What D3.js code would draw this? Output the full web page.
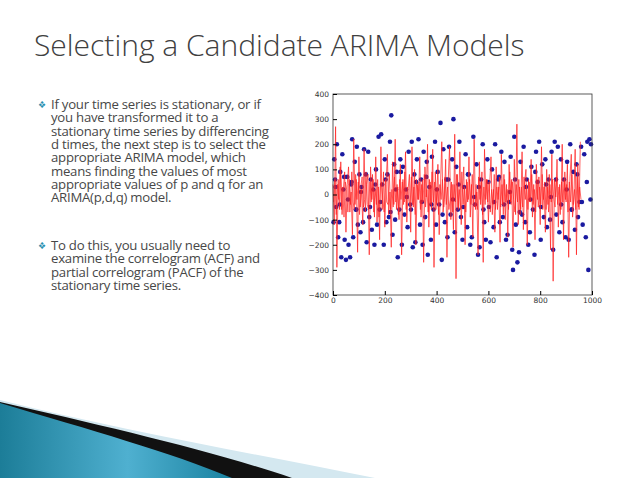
<!DOCTYPE html>
<html><head><meta charset="utf-8">
<script src="https://cdn.jsdelivr.net/npm/d3@7"></script>
<style>body{margin:0;background:#fff;font-family:"Open Sans",sans-serif;}</style>
</head><body><div id="slide"></div>
<script>
const title = "Selecting a Candidate ARIMA Models";
const bullet1 = ["If your time series is stationary, or if","you have transformed it to a","stationary time series by differencing","d times, the next step is to select the","appropriate ARIMA model, which","means finding the values of most","appropriate values of p and q for an","ARIMA(p,d,q) model."];
const bullet2 = ["To do this, you usually need to","examine the correlogram (ACF) and","partial correlogram (PACF) of the","stationary time series."];
const xTicks = [0, 200, 400, 600, 800, 1000];
const yTicks = [-400, -300, -200, -100, 0, 100, 200, 300, 400];

// red series, one value every 5 steps
const lineStep = 5;
const lineValues = [40,-120,270,-290,60,-60,130,-80,20,90,-150,40,110,-70,10,-160,220,-40,60,-230,
 150,-50,20,-120,180,-70,40,80,-240,110,-20,60,-90,150,-110,30,-180,190,-60,90,
 -130,40,160,-80,10,-210,130,-40,220,-60,30,-100,120,-240,60,-30,170,-110,20,80,
 -150,190,-50,100,-200,40,-20,150,-90,60,-270,110,-10,200,-130,50,-60,180,-290,90,
 -40,120,-160,30,210,-70,-20,140,-250,60,190,-100,40,-140,240,-335,80,-60,170,-120,
 20,110,-200,60,-30,150,-90,40,-170,220,-60,10,-240,130,-40,90,-270,180,-20,60,
 -110,40,150,-80,20,-150,110,-60,30,-190,160,-40,80,-100,40,-170,120,-30,60,-210,
 140,-80,280,-120,30,-60,170,-140,50,100,-200,60,-30,140,-90,40,-180,120,-20,70,
 -120,190,-60,30,-150,100,-40,80,-220,160,-345,60,-10,140,-130,40,-60,200,-180,90,
 -30,120,-250,70,160,-90,-20,180,-240,120,-60,210];
// second interleaved red pass (offset by 2.5 steps), smaller swings
const lineValues2 = [-30,60,-80,40,-20,110,-60,30,-90,50,20,-70,60,-40,90,-30,-60,80,-20,50,
 -80,30,70,-50,-20,90,-40,-60,50,-30,80,-70,20,-40,60,-90,30,50,-20,-70,
 60,-30,-40,80,-60,20,-50,70,-30,40,-80,60,-20,50,-40,90,-60,30,-20,-50,
 70,-40,30,-80,60,-20,50,-60,40,-30,80,-50,20,-70,60,-40,90,-30,50,-60,
 30,-80,40,-20,60,-50,70,-40,30,-60,-20,50,-70,40,-30,80,-50,20,-60,90,
 -40,30,-70,50,-20,60,-40,80,-30,-50,40,-60,70,-20,50,-80,30,-40,60,-30,
 50,-70,20,-40,80,-60,30,-20,70,-50,40,-80,60,-30,20,-60,90,-40,50,-20,
 -70,40,-30,60,-80,30,-50,70,-20,40,-60,50,-30,80,-40,20,-70,60,-50,30,
 -40,80,-20,50,-60,30,-70,40,-30,60,-20,-50,70,-40,30,-80,50,-30,60,-20,
 40,-70,50,-30,80,-40,20,-60,70,-50,30,-20];

// blue dots: [x, value]
const dotX = [2,5,8,12,15,20,24,28,32,36,40,45,50,55,60,66,70,74,78,84,88,92,96,102,106,110,116,120,124,130,
 136,140,146,150,156,160,166,170,176,180,186,190,196,200,206,210,216,220,225,230,236,240,246,250,256,260,266,270,276,282,
 288,292,298,304,308,314,318,324,330,336,340,346,350,356,362,366,372,378,382,388,394,398,404,410,415,420,426,432,438,442,
 448,454,460,465,470,476,482,488,494,500,506,512,518,524,530,536,542,548,554,560,566,572,578,584,590,596,602,608,614,620,
 626,632,638,644,650,656,662,668,674,680,686,692,695,700,706,712,718,724,730,736,742,748,754,760,766,772,778,784,790,796,
 802,808,814,820,826,832,838,844,850,856,862,868,874,880,886,892,898,904,910,916,922,928,934,940,946,952,958,964,970,976,982,986,990,996];
const dotY = [-110,140,60,-50,200,-170,-110,90,-250,160,20,-180,-260,70,-200,-250,40,220,-170,130,-60,190,-120,80,-150,30,-110,180,-60,-190,
 170,-90,60,-140,20,-200,100,-120,230,-60,240,40,-200,140,-110,80,-90,210,315,-160,120,-100,90,-250,-60,140,-200,110,-80,20,
 -130,170,-40,210,-210,80,-190,140,220,-120,60,-200,170,-90,130,-240,30,-180,150,-60,210,-120,90,-40,285,-260,180,-110,60,-170,
 190,-80,140,300,-150,110,-60,210,-90,-180,30,160,-130,80,-200,-170,230,-40,120,-240,-210,60,200,-110,-180,140,-50,-190,100,-130,
 200,-250,60,-110,170,-90,130,-180,-160,-30,150,-220,-300,230,-120,-270,-230,130,-80,190,-110,60,-200,-150,110,-60,-240,170,50,210,
 -180,120,-90,140,-130,60,-100,170,-220,210,-80,190,-150,140,-110,60,-170,130,-180,200,-60,90,-140,120,-90,-30,190,-120,160,-170,210,-300,220,200];
// extra dots near the centre band
const dotX2 = [10,26,43,58,72,90,108,127,143,163,183,203,222,243,262,285,301,321,343,360,380,401,423,445,463,485,503,521,545,563,
 581,600,622,641,660,683,703,721,745,763,781,803,823,841,861,881,902,921,943,961,980,994];
const dotY2 = [30,-40,70,-20,50,-60,10,80,-50,40,-30,60,-70,20,90,-10,-60,50,-30,70,-40,20,-80,60,-20,40,-50,80,-10,30,
 -60,50,-30,70,-40,10,60,-70,30,-20,90,-50,40,-10,60,-40,20,-60,80,-30,50,-20];

const W = 638, H = 478;
const svg = d3.select("#slide").append("svg").attr("width", W).attr("height", H);

// bottom decoration
svg.append("path").attr("fill", "#d4e8f0")
  .attr("d", "M0,400 C120,430 260,455 375,478 L0,478 Z");
svg.append("path").attr("fill", "#111")
  .attr("d", "M0,402 C100,425 210,450 292,478 L0,478 Z");
const grad = svg.append("defs").append("linearGradient").attr("id", "bg");
grad.append("stop").attr("offset", "0").attr("stop-color", "#1c7d98");
grad.append("stop").attr("offset", "0.55").attr("stop-color", "#4fb0d0");
grad.append("stop").attr("offset", "1").attr("stop-color", "#1a82a0");
svg.append("path").attr("fill", "url(#bg)")
  .attr("d", "M0,403 C90,430 170,452 232,478 L0,478 Z");

svg.append("text").attr("x", 34).attr("y", 56).attr("fill", "#404040")
  .style("font-size", "30px").style("font-weight", 300).text(title);

function drawBullet(lines, y0, step) {
  svg.append("text").attr("x", 38).attr("y", y0 - 1).attr("fill", "#2a8fb0")
    .style("font-size", "9px").text("❖");
  lines.forEach((t, i) => {
    svg.append("text").attr("x", 51).attr("y", y0 + i * step).attr("fill", "#474747")
      .style("font-size", "13.2px").style("letter-spacing", "-0.25px").text(t);
  });
}
drawBullet(bullet1, 109, 13.3);
drawBullet(bullet2, 250, 13.3);

const x = d3.scaleLinear().domain([0, 1000]).range([333, 592]);
const y = d3.scaleLinear().domain([-400, 400]).range([295, 94]);

const dots = svg.append("g");
dots.selectAll(".a").data(dotX).join("circle")
  .attr("cx", d => x(d)).attr("cy", (d, i) => y(dotY[i])).attr("r", 2.3).attr("fill", "#1a1aa0");
dots.selectAll(".b").data(dotX2).join("circle")
  .attr("cx", d => x(d)).attr("cy", (d, i) => y(dotY2[i])).attr("r", 2.3).attr("fill", "#1a1aa0");

const redLine = (vals, off) => d3.line().x((d, i) => x(i * lineStep + off)).y(d => y(d))(vals);
svg.append("path").attr("d", redLine(lineValues2, 2.5))
  .attr("fill", "none").attr("stroke", "#ff2020").attr("stroke-width", 0.8).attr("stroke-opacity", 0.85);
svg.append("path").attr("d", redLine(lineValues, 0))
  .attr("fill", "none").attr("stroke", "#ff2020").attr("stroke-width", 0.8).attr("stroke-opacity", 0.9);

svg.append("rect").attr("x", 333).attr("y", 94).attr("width", 259).attr("height", 201)
  .attr("fill", "none").attr("stroke", "#333").attr("stroke-width", 0.8);

const ax = svg.append("g").attr("transform", "translate(0,295)")
  .call(d3.axisBottom(x).tickValues(xTicks).tickSize(-4).tickPadding(3).tickFormat(d3.format("d")));
const ay = svg.append("g").attr("transform", "translate(333,0)")
  .call(d3.axisLeft(y).tickValues(yTicks).tickSize(-4).tickPadding(4).tickFormat(d => d < 0 ? "\u2212" + (-d) : d));
[ax, ay].forEach(g => {
  g.select(".domain").remove();
  g.selectAll("text").style("font-size", "7.5px").style("font-family", "DejaVu Sans").attr("fill", "#333");
});
</script></body></html>
